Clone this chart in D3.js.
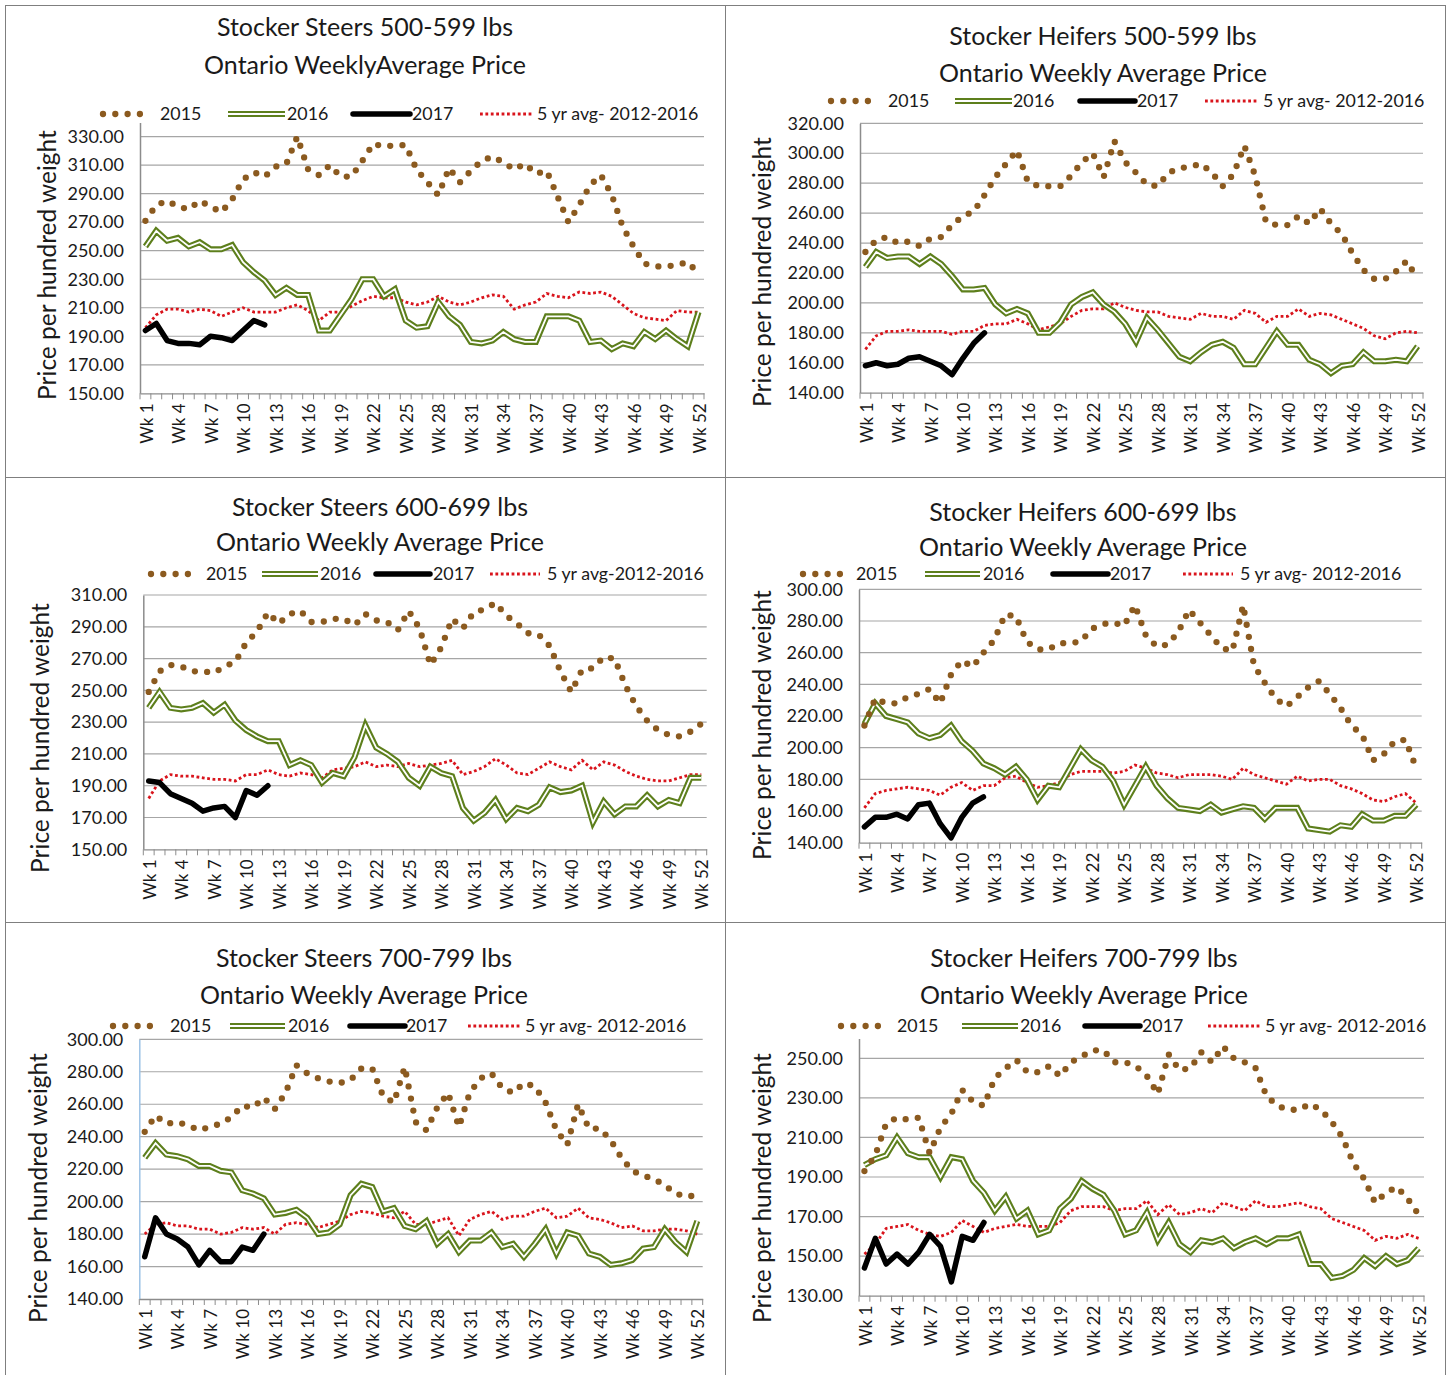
<!DOCTYPE html>
<html><head><meta charset="utf-8">
<script src="https://cdn.jsdelivr.net/npm/d3@7"></script>
<style>
body{margin:0;background:#fff}
svg{display:block}
text{font-family:Lato,"Open Sans",sans-serif;fill:#1a1a1a}
</style>
</head><body>
<svg id="c" width="1446" height="1375"></svg>
<script>
// ---------- categories & tick labels ----------
const weeks = d3.range(1, 53).map(i => "Wk " + i);
const weekTickLabels = ["Wk 1","Wk 4","Wk 7","Wk 10","Wk 13","Wk 16","Wk 19","Wk 22","Wk 25","Wk 28","Wk 31","Wk 34","Wk 37","Wk 40","Wk 43","Wk 46","Wk 49","Wk 52"];
const seriesNames = ["2015", "2016", "2017"];

// ---------- Stocker Steers 500-599 ----------
const s1_2015 = [271,282,285,281,279,285,281,277,286,300,305,302,309,311,330,307,303,310,302,302,313,325,323,324,324,307,298,289,308,298,306,313,316,312,307,311,304,306,288,270,282,296,303,289,267,253,241,239,239,240,242,234];
const s1_2016 = [253,264,257,259,253,256,251,251,254,242,235,229,219,224,219,219,194,194,205,216,230,230,218,223,201,196,197,214,204,198,186,185,187,193,188,186,186,204,204,204,201,186,187,181,185,183,193,188,194,188,183,207];
const s1_2017 = [194,199,187,185,185,184,190,189,187,194,201,198];
const s1_avg  = [196,205,209,209,207,209,208,204,207,210,207,207,207,210,212,208,201,207,207,211,215,218,217,217,214,212,214,218,214,212,214,217,219,218,209,212,214,220,218,217,221,220,221,218,212,206,203,202,201,208,207,207];
const yTicks1 = [150,170,190,210,230,250,270,290,310,330];

// ---------- Stocker Heifers 500-599 ----------
const s2_2015 = [234,242,244,240,241,238,243,244,252,258,261,272,284,293,302,281,278,278,278,285,294,300,284,308,294,287,279,278,287,290,291,293,287,278,286,305,285,254,252,252,258,253,263,253,246,233,222,216,216,221,228,216];
const s2_2016 = [224,234,230,231,231,226,231,226,218,209,209,210,199,193,196,193,180,180,187,199,204,207,199,194,186,174,190,182,173,164,161,167,172,174,170,159,159,170,181,172,172,162,159,153,158,159,167,161,161,162,161,171];
const s2_2017 = [158,160,158,159,163,164,161,158,152,163,173,180];
const s2_avg  = [169,178,181,181,182,181,181,181,179,181,181,185,186,186,189,186,182,184,186,191,195,196,196,200,197,195,194,194,191,190,189,193,191,191,189,195,193,187,191,191,196,191,193,192,189,186,183,178,176,180,181,180];
const yTicks2 = [140,160,180,200,220,240,260,280,300,320];

// ---------- Stocker Steers 600-699 ----------
const s3_2015 = [249,262,266,265,262,262,261,265,268,280,287,299,292,298,300,293,293,295,295,291,298,294,293,288,300,289,266,277,295,289,299,301,305,297,292,286,285,278,262,249,263,264,271,270,253,240,231,225,222,221,224,229];
const s3_2016 = [239,249,239,238,239,242,236,241,231,225,221,218,218,203,206,203,192,198,196,208,228,214,210,205,195,190,202,198,196,176,168,173,181,169,176,174,178,189,186,187,190,167,180,172,177,177,184,177,181,179,195,195];
const s3_2017 = [193,192,185,182,179,174,176,177,170,187,184,190];
const s3_avg  = [182,193,197,196,196,195,194,194,193,197,197,200,197,196,198,197,195,200,201,202,205,202,203,202,204,202,203,204,206,197,199,202,207,203,198,197,201,205,202,200,206,200,205,203,199,196,194,193,193,195,197,197];
const yTicks3 = [150,170,190,210,230,250,270,290,310];

// ---------- Stocker Heifers 600-699 ----------
const s4_2015 = [214,231,228,228,232,234,237,228,246,255,251,260,268,284,283,267,262,262,266,266,267,275,278,279,277,290,271,264,265,273,287,279,271,263,261,290,252,241,231,226,232,238,242,234,225,214,208,192,196,204,205,187];
const s4_2016 = [215,228,220,218,216,209,206,208,214,204,198,190,187,183,188,180,167,176,175,187,199,192,188,179,164,176,188,176,168,162,161,160,164,159,161,163,162,155,162,162,162,149,148,147,151,150,158,154,154,157,157,164];
const s4_2017 = [150,156,156,158,155,164,165,152,143,156,165,169];
const s4_avg  = [162,171,173,174,175,174,173,170,175,178,173,176,176,181,182,178,175,176,178,183,185,185,185,184,185,189,187,184,183,181,183,183,183,182,180,187,183,181,179,177,182,179,180,180,176,174,171,167,166,169,171,165];
const yTicks4 = [140,160,180,200,220,240,260,280,300];

// ---------- Stocker Steers 700-799 ----------
const s5_2015 = [243,253,248,249,247,244,246,248,252,259,258,264,257,267,284,279,276,274,273,275,282,282,265,261,283,249,244,258,267,246,267,276,279,270,267,273,271,261,244,235,260,245,245,238,227,219,216,214,210,205,203,204];
const s5_2016 = [227,236,229,228,226,222,222,219,218,207,205,202,192,193,195,190,180,181,186,204,211,209,194,196,185,183,188,174,180,169,176,176,181,172,174,166,174,183,168,181,179,168,166,161,162,164,171,172,183,175,169,188];
const s5_2017 = [166,190,180,177,172,161,170,163,163,172,170,180];
const s5_avg  = [180,186,187,185,185,183,183,180,181,184,183,184,180,186,187,186,184,186,188,192,194,193,191,190,194,186,186,188,190,179,189,192,194,189,191,191,194,196,190,191,196,190,189,187,184,185,182,182,183,183,182,180];
const yTicks5 = [140,160,180,200,220,240,260,280,300];

// ---------- Stocker Heifers 700-799 ----------
const s6_2015 = [193,201,217,220,219,220,202,215,222,234,228,226,240,245,249,243,243,246,241,248,251,254,254,248,248,246,241,232,252,244,245,253,248,256,250,248,245,231,226,224,224,227,224,218,210,197,189,177,182,185,179,171];
const s6_2016 = [196,199,201,210,202,200,200,190,200,199,188,182,173,180,169,173,161,163,174,179,188,184,181,173,161,163,172,158,167,156,152,158,157,159,154,157,159,156,159,159,161,146,146,139,140,143,149,145,150,146,148,154];
const s6_2017 = [144,159,146,151,146,152,161,155,137,160,158,167];
const s6_avg  = [151,156,164,165,166,163,161,160,162,168,165,162,164,165,166,165,165,165,167,173,175,175,175,173,174,174,178,171,176,171,172,174,172,177,175,173,178,175,175,176,177,175,174,169,167,165,163,158,160,159,161,159];
const yTicks6 = [130,150,170,190,210,230,250];

// ---------- panel options (built from the arrays above) ----------
const panels = [
  {t1:"Stocker Steers 500-599 lbs", t2:"Ontario WeeklyAverage Price", avgName:"5 yr avg- 2012-2016",
   d:[s1_2015,s1_2016,s1_2017,s1_avg], ticks:yTicks1, dom:[150,340],
   L:140, R:704, T:122.4, B:393.3, tx:365, ty1:36, ty2:74, ytx:47, yty:265,
   ly:114, leg:[[100,150,160],[228,285,287],[353,410,412],[480,532,537]], box:[5,5,720,472], axisCol:"#8c8c8c"},
  {t1:"Stocker Heifers 500-599 lbs", t2:"Ontario Weekly Average  Price", avgName:"5 yr avg- 2012-2016",
   d:[s2_2015,s2_2016,s2_2017,s2_avg], ticks:yTicks2, dom:[140,320],
   L:860, R:1423, T:123.3, B:392.7, tx:1103, ty1:45, ty2:82, ytx:762, yty:272,
   ly:101, leg:[[828,878,888],[955,1012,1013],[1080,1135,1137],[1205,1258,1263]], box:[725,5,720,472], axisCol:"#8c8c8c"},
  {t1:"Stocker Steers 600-699 lbs", t2:"Ontario Weekly Average Price", avgName:"5 yr avg-2012-2016",
   d:[s3_2015,s3_2016,s3_2017,s3_avg], ticks:yTicks3, dom:[150,310],
   L:143.3, R:706.7, T:595, B:849.3, tx:380, ty1:516, ty2:551, ytx:40, yty:738,
   ly:574, leg:[[148,198,206],[262,318,320],[376,430,433],[490,540,547]], box:[5,477,720,445], axisCol:"#8c8c8c"},
  {t1:"Stocker Heifers 600-699 lbs", t2:"Ontario Weekly Average Price", avgName:"5 yr avg- 2012-2016",
   d:[s4_2015,s4_2016,s4_2017,s4_avg], ticks:yTicks4, dom:[140,300],
   L:859, R:1421.7, T:589.3, B:842.7, tx:1083, ty1:521, ty2:556, ytx:762, yty:725,
   ly:574, leg:[[800,850,856],[925,980,983],[1053,1108,1110],[1183,1233,1240]], box:[725,477,720,445], axisCol:"#8c8c8c"},
  {t1:"Stocker Steers 700-799 lbs", t2:"Ontario Weekly Average Price", avgName:"5 yr avg- 2012-2016",
   d:[s5_2015,s5_2016,s5_2017,s5_avg], ticks:yTicks5, dom:[140,300],
   L:139.3, R:702.7, T:1039.3, B:1299, tx:364, ty1:967, ty2:1004, ytx:38, yty:1188,
   ly:1026, leg:[[110,162,170],[230,285,288],[350,405,406],[468,520,525]], box:[5,922,720,453], axisCol:"#9dc3e6"},
  {t1:"Stocker Heifers 700-799 lbs", t2:"Ontario Weekly Average Price", avgName:"5 yr avg- 2012-2016",
   d:[s6_2015,s6_2016,s6_2017,s6_avg], ticks:yTicks6, dom:[130,260],
   L:859, R:1424, T:1038.5, B:1295.7, tx:1084, ty1:967, ty2:1004, ytx:762, yty:1188,
   ly:1026, leg:[[838,890,897],[962,1018,1020],[1085,1140,1142],[1208,1260,1265]], box:[725,922,720,453], axisCol:"#8c8c8c"}
];

const C15 = "#8b5a1f", CG = "#5d7f1c", CR = "#d9141c";
const svg = d3.select("#c");

function styleSeries(sel, k) {
  // k: 0=2015 dots, 1=2016 outer, 2=2017, 3=avg, 4=2016 inner
  if (k === 0) sel.attr("stroke", C15).attr("stroke-width", 6.3).attr("stroke-linecap", "round").attr("stroke-dasharray", "0 12.3");
  if (k === 1) sel.attr("stroke", CG).attr("stroke-width", 6).attr("stroke-linejoin", "miter");
  if (k === 4) sel.attr("stroke", "#fff").attr("stroke-width", 1.8).attr("stroke-linejoin", "miter");
  if (k === 2) sel.attr("stroke", "#000").attr("stroke-width", 5.5).attr("stroke-linejoin", "round").attr("stroke-linecap", "round");
  if (k === 3) sel.attr("stroke", CR).attr("stroke-width", 2.8).attr("stroke-dasharray", "2.8 2.6");
  return sel.attr("fill", "none");
}

panels.forEach(p => {
  const g = svg.append("g");
  g.append("rect").attr("x", p.box[0] + 0.5).attr("y", p.box[1] + 0.5)
    .attr("width", p.box[2]).attr("height", p.box[3])
    .attr("fill", "none").attr("stroke", "#7f7f7f").attr("stroke-width", 1);

  const x = d3.scaleBand().domain(weeks).range([p.L, p.R]).paddingInner(0).paddingOuter(0);
  const xc = w => x(w) + x.bandwidth() / 2;
  const y = d3.scaleLinear().domain(p.dom).range([p.B, p.T]);

  // gridlines
  g.append("g").selectAll("line").data(p.ticks.slice(1)).join("line")
    .attr("x1", p.L).attr("x2", p.R).attr("y1", d => y(d)).attr("y2", d => y(d))
    .attr("stroke", "#a6a6a6").attr("stroke-width", 1.2);

  // y axis
  const ya = d3.axisLeft(y).tickValues(p.ticks).tickFormat(d3.format(".2f")).tickSize(0).tickPadding(16);
  const yg = g.append("g").attr("transform", `translate(${p.L},0)`).call(ya);
  yg.select(".domain").attr("stroke", p.axisCol).attr("stroke-width", 1.5);
  yg.selectAll("text").attr("font-size", 18).attr("font-family", "Lato").attr("fill", "#1a1a1a");

  // x axis with tick marks between categories
  const xa = d3.axisBottom(x).tickSize(0).tickFormat("");
  const xg = g.append("g").attr("transform", `translate(0,${p.B})`).call(xa);
  xg.select(".domain").attr("stroke", "#8c8c8c").attr("stroke-width", 1.3);
  xg.selectAll(".tick").remove();
  const bounds = weeks.map(w => x(w)).concat([p.R]);
  g.append("g").selectAll("line").data(bounds).join("line")
    .attr("x1", d => d).attr("x2", d => d).attr("y1", p.B).attr("y2", p.B + 6)
    .attr("stroke", "#8c8c8c").attr("stroke-width", 1);
  g.append("g").selectAll("text").data(weekTickLabels).join("text")
    .attr("transform", d => `translate(${xc(d) + 1},${p.B + 10}) rotate(-90)`)
    .attr("text-anchor", "end").attr("dy", "0.36em").attr("font-size", 17).text(d => d);

  // series
  const line = d3.line().x((d, i) => xc(weeks[i])).y(d => y(d));
  styleSeries(g.append("path").attr("d", line(p.d[3])), 3);
  styleSeries(g.append("path").attr("d", line(p.d[1])), 1);
  styleSeries(g.append("path").attr("d", line(p.d[1])), 4);
  styleSeries(g.append("path").attr("d", line(p.d[0])), 0);
  styleSeries(g.append("path").attr("d", line(p.d[2])), 2);

  // titles
  g.append("text").attr("x", p.tx).attr("y", p.ty1).attr("text-anchor", "middle").attr("font-size", 25).text(p.t1);
  g.append("text").attr("x", p.tx).attr("y", p.ty2).attr("text-anchor", "middle").attr("font-size", 25).text(p.t2);
  g.append("text").attr("transform", `translate(${p.ytx},${p.yty}) rotate(-90)`)
    .attr("text-anchor", "middle").attr("dy", "0.35em").attr("font-size", 24.5).text("Price per hundred weight");

  // legend
  const names = seriesNames.concat([p.avgName]);
  [0, 1, 2, 3].forEach((k, i) => {
    const [a, b, tx] = p.leg[i];
    const seg = `M${a},${p.ly}L${b},${p.ly}`;
    if (k === 0) {
      g.append("path").attr("d", `M${a + 3},${p.ly}L${b},${p.ly}`).call(s => styleSeries(s, 0));
    } else if (k === 1) {
      g.append("path").attr("d", seg).call(s => styleSeries(s, 1));
      g.append("path").attr("d", seg).call(s => styleSeries(s, 4));
    } else {
      g.append("path").attr("d", seg).call(s => styleSeries(s, k));
    }
    g.append("text").attr("x", tx).attr("y", p.ly).attr("dy", "0.36em").attr("font-size", 17.8).text(names[i]);
  });
});
</script>
</body></html>
